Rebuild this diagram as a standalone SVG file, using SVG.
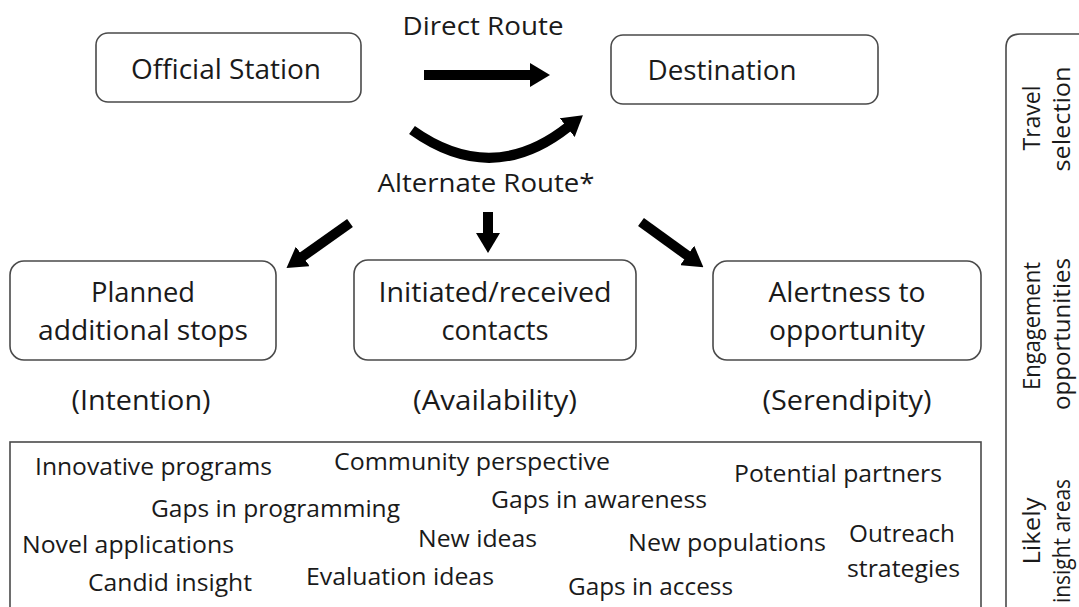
<svg xmlns="http://www.w3.org/2000/svg" width="1079" height="607" viewBox="0 0 1079 607">
<defs>
<style>
.box{fill:#fff;stroke:#4a4a4a;stroke-width:1.6}
.t{font-family:"Open Sans","Liberation Sans",sans-serif;fill:#1a1a1a}
.big{font-size:28px;text-anchor:middle}
.mid{font-size:26px;text-anchor:middle}
.sm{font-size:24px}
.arr{stroke:#000;stroke-width:10;fill:none}
</style>
<marker id="ah" markerUnits="userSpaceOnUse" markerWidth="20" markerHeight="24" viewBox="0 0 20 24" refX="1" refY="12" orient="auto">
<path d="M0,0 L20,12 L0,24 z" fill="#000"/>
</marker>
</defs>
<g id="official-station">
<rect class="box" x="96" y="33" width="265" height="69" rx="12"/>
<text class="t big" x="226" y="79" textLength="190" lengthAdjust="spacingAndGlyphs">Official Station</text>
</g>
<g id="destination">
<rect class="box" x="611" y="35" width="267" height="69" rx="12"/>
<text class="t big" x="722" y="80" textLength="149" lengthAdjust="spacingAndGlyphs">Destination</text>
</g>
<g id="direct-route-label"><text class="t mid" x="483" y="35" textLength="161" lengthAdjust="spacingAndGlyphs">Direct Route</text></g>
<g id="alternate-route-label"><text class="t mid" x="486" y="192" textLength="217" lengthAdjust="spacingAndGlyphs">Alternate Route*</text></g>
<g id="planned">
<rect class="box" x="10" y="261" width="266" height="99" rx="14"/>
<text class="t big" x="143" y="302" textLength="104" lengthAdjust="spacingAndGlyphs">Planned</text>
<text class="t big" x="143" y="340" textLength="210" lengthAdjust="spacingAndGlyphs">additional stops</text>
</g>
<g id="initiated">
<rect class="box" x="354" y="260" width="282" height="100" rx="14"/>
<text class="t big" x="495" y="302" textLength="233" lengthAdjust="spacingAndGlyphs">Initiated/received</text>
<text class="t big" x="495" y="340" textLength="107" lengthAdjust="spacingAndGlyphs">contacts</text>
</g>
<g id="alertness">
<rect class="box" x="713" y="261" width="268" height="99" rx="14"/>
<text class="t big" x="847" y="302" textLength="157" lengthAdjust="spacingAndGlyphs">Alertness to</text>
<text class="t big" x="847" y="340" textLength="156" lengthAdjust="spacingAndGlyphs">opportunity</text>
</g>
<g id="categories">
<text class="t big" x="141" y="410" textLength="139" lengthAdjust="spacingAndGlyphs">(Intention)</text>
<text class="t big" x="495" y="410" textLength="164" lengthAdjust="spacingAndGlyphs">(Availability)</text>
<text class="t big" x="847" y="410" textLength="169" lengthAdjust="spacingAndGlyphs">(Serendipity)</text>
</g>
<g id="insights">
<rect x="10" y="442" width="971" height="175" fill="#fff" stroke="#4a4a4a" stroke-width="1.6"/>
<g class="t sm">
<text x="35" y="475" textLength="237" lengthAdjust="spacingAndGlyphs">Innovative programs</text>
<text x="334" y="470" textLength="276" lengthAdjust="spacingAndGlyphs">Community perspective</text>
<text x="734" y="482" textLength="208" lengthAdjust="spacingAndGlyphs">Potential partners</text>
<text x="151" y="517" textLength="249" lengthAdjust="spacingAndGlyphs">Gaps in programming</text>
<text x="491" y="508" textLength="216" lengthAdjust="spacingAndGlyphs">Gaps in awareness</text>
<text x="22" y="553" textLength="212" lengthAdjust="spacingAndGlyphs">Novel applications</text>
<text x="418" y="547" textLength="119" lengthAdjust="spacingAndGlyphs">New ideas</text>
<text x="628" y="551" textLength="198" lengthAdjust="spacingAndGlyphs">New populations</text>
<text x="849" y="542" textLength="106" lengthAdjust="spacingAndGlyphs">Outreach</text>
<text x="847" y="577" textLength="113" lengthAdjust="spacingAndGlyphs">strategies</text>
<text x="88" y="591" textLength="164" lengthAdjust="spacingAndGlyphs">Candid insight</text>
<text x="306" y="585" textLength="188" lengthAdjust="spacingAndGlyphs">Evaluation ideas</text>
<text x="568" y="595" textLength="165" lengthAdjust="spacingAndGlyphs">Gaps in access</text>
</g>
</g>
<g id="side-legend">
<path d="M1090,34 L1020,34 Q1006,34 1006,48 L1006,620" fill="none" stroke="#4a4a4a" stroke-width="1.6"/>
<g class="t sm" text-anchor="middle">
<text transform="translate(1040,118) rotate(-90)" textLength="65" lengthAdjust="spacingAndGlyphs">Travel</text>
<text transform="translate(1070,119) rotate(-90)" textLength="105" lengthAdjust="spacingAndGlyphs">selection</text>
<text transform="translate(1040,326) rotate(-90)" textLength="128" lengthAdjust="spacingAndGlyphs">Engagement</text>
<text transform="translate(1070,334) rotate(-90)" textLength="152" lengthAdjust="spacingAndGlyphs">opportunities</text>
<text transform="translate(1040,531) rotate(-90)" textLength="67" lengthAdjust="spacingAndGlyphs">Likely</text>
<text transform="translate(1070,541) rotate(-90)" textLength="124" lengthAdjust="spacingAndGlyphs">insight areas</text>
</g>
</g>
<g id="connectors">
<line class="arr" x1="424" y1="75" x2="531" y2="75" marker-end="url(#ah)"/>
<path class="arr" d="M412,130 Q492,187 568,127" marker-end="url(#ah)"/>
<line class="arr" x1="350" y1="223" x2="302" y2="257" marker-end="url(#ah)"/>
<line class="arr" x1="488" y1="212" x2="488" y2="234" marker-end="url(#ah)"/>
<line class="arr" x1="641" y1="222" x2="688" y2="256" marker-end="url(#ah)"/>
</g>
</svg>
